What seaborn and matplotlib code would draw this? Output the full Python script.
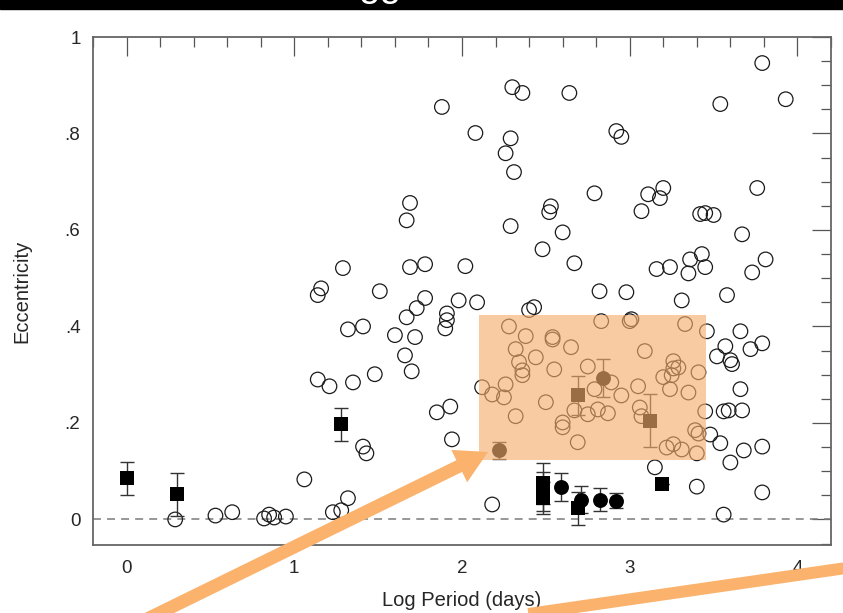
import matplotlib
matplotlib.use("Agg")
import matplotlib.pyplot as plt
import seaborn as sns
import pandas as pd
from matplotlib.patches import Rectangle, FancyArrow
from matplotlib.lines import Line2D
from matplotlib.transforms import IdentityTransform
from matplotlib.ticker import MultipleLocator, FuncFormatter

# Known planets (open circles): log10 period in days, eccentricity
planet_logp = [
    0.29, 0.53, 0.63, 0.82, 0.85, 0.88, 0.95, 1.06, 1.23, 1.28, 1.32, 1.41, 1.43,
    1.85, 1.93, 1.94, 2.18, 1.14, 1.21, 1.35, 1.48, 1.32, 1.41, 1.60, 1.67, 1.73,
    1.72, 1.66, 1.70, 1.91, 1.91, 1.90, 1.88, 2.08, 1.69, 1.67, 1.29, 1.69, 1.78,
    2.02, 1.16, 1.14, 1.51, 1.78, 1.98, 2.30, 2.36, 2.64, 2.29, 2.26, 2.31, 2.92,
    2.95, 2.79, 3.11, 3.20, 3.18, 3.07, 2.53, 2.52, 2.29, 2.60, 2.48, 2.67, 3.16,
    2.82, 2.98, 2.09, 2.40, 2.43, 3.79, 3.93, 3.54, 3.76, 3.42, 3.45, 3.50, 3.67,
    3.36, 3.43, 3.45, 3.35, 3.24, 3.81, 3.73, 3.58, 3.31, 3.46, 3.66, 3.57, 3.52,
    3.60, 3.61, 3.72, 3.79, 3.66, 3.45, 3.56, 3.59, 3.67, 3.48, 3.54, 3.68, 3.79,
    3.60, 3.15, 3.40, 3.79, 3.56, 3.33, 3.09, 3.26, 3.29, 3.26, 3.25, 3.20, 3.41,
    3.24, 3.35, 3.39, 3.41, 3.22, 3.26, 3.31, 3.40, 2.28, 2.38, 2.54, 2.54, 2.83,
    3.00, 3.01, 2.32, 2.44, 2.65, 2.34, 2.36, 2.36, 2.55, 2.75, 2.12, 2.18, 2.26,
    2.25, 2.50, 2.79, 2.89, 2.95, 3.05, 3.06, 2.67, 2.75, 2.81, 2.87, 2.32, 2.60,
    2.60, 3.07, 2.69,
]
planet_ecc = [
    0.000, 0.008, 0.015, 0.002, 0.010, 0.004, 0.006, 0.083, 0.015, 0.019, 0.044, 0.151, 0.137,
    0.222, 0.234, 0.166, 0.031, 0.290, 0.276, 0.284, 0.301, 0.394, 0.400, 0.382, 0.419, 0.438,
    0.378, 0.340, 0.307, 0.427, 0.413, 0.396, 0.855, 0.801, 0.656, 0.620, 0.521, 0.523, 0.529,
    0.525, 0.479, 0.465, 0.473, 0.459, 0.454, 0.896, 0.884, 0.884, 0.790, 0.759, 0.720, 0.805,
    0.793, 0.676, 0.674, 0.687, 0.666, 0.639, 0.649, 0.637, 0.608, 0.595, 0.560, 0.531, 0.519,
    0.473, 0.471, 0.450, 0.434, 0.440, 0.946, 0.871, 0.861, 0.687, 0.633, 0.635, 0.631, 0.591,
    0.539, 0.550, 0.523, 0.510, 0.523, 0.539, 0.512, 0.465, 0.454, 0.390, 0.390, 0.359, 0.338,
    0.330, 0.322, 0.353, 0.365, 0.270, 0.224, 0.224, 0.226, 0.226, 0.176, 0.158, 0.143, 0.151,
    0.118, 0.108, 0.068, 0.056, 0.010, 0.405, 0.349, 0.328, 0.315, 0.313, 0.299, 0.295, 0.305,
    0.270, 0.263, 0.185, 0.178, 0.149, 0.156, 0.145, 0.137, 0.400, 0.380, 0.378, 0.373, 0.411,
    0.411, 0.415, 0.353, 0.336, 0.357, 0.326, 0.309, 0.299, 0.311, 0.317, 0.274, 0.259, 0.280,
    0.253, 0.243, 0.270, 0.284, 0.257, 0.276, 0.232, 0.226, 0.218, 0.228, 0.220, 0.214, 0.201,
    0.191, 0.214, 0.160,
]

# Filled squares with uncertainties
sq_logp = [0.00, 0.30, 1.28, 2.48, 2.48, 2.48, 2.69, 3.19, 2.69, 3.12]
sq_ecc = [0.085, 0.052, 0.197, 0.075, 0.058, 0.044, 0.023, 0.073, 0.257, 0.205]
sq_err = [0.034, 0.044, 0.035, 0.043, 0.040, 0.033, 0.034, 0.000, 0.041, 0.055]

# Filled circles with uncertainties
dot_logp = [2.59, 2.71, 2.82, 2.92, 2.22, 2.84]
dot_ecc = [0.068, 0.041, 0.041, 0.039, 0.143, 0.293]
dot_err = [0.029, 0.028, 0.024, 0.016, 0.017, 0.040]

# Highlighted region (log P range, eccentricity range)
box_logp = [2.10, 3.455]
box_ecc = [0.124, 0.423]

y_ticks = [0.0, 0.2, 0.4, 0.6, 0.8, 1.0]
x_ticks = [0, 1, 2, 3, 4]

sns.set_style("white")
plt.rcParams["font.family"] = ["Liberation Sans", "DejaVu Sans"]

W, H = 843, 613
fig = plt.figure(figsize=(W / 100, H / 100), dpi=100)
ax = fig.add_axes([93 / W, 68 / H, 738 / W, 508 / H])

planets = pd.DataFrame({"logp": planet_logp, "ecc": planet_ecc})
squares = pd.DataFrame({"logp": sq_logp, "ecc": sq_ecc, "err": sq_err})
dots = pd.DataFrame({"logp": dot_logp, "ecc": dot_ecc, "err": dot_err})

ax.axhline(0, color="#7a7a7a", lw=1.1, ls=(0, (5.2, 4.0)), zorder=1)

sns.scatterplot(data=planets, x="logp", y="ecc", ax=ax, marker="o", s=110,
                facecolor="none", edgecolor="#1a1a1a", linewidth=0.9, zorder=3)

ax.errorbar(squares["logp"], squares["ecc"], yerr=squares["err"], fmt="none",
            ecolor="#333333", elinewidth=1.0, capsize=5, capthick=1.0, zorder=4)
ax.errorbar(dots["logp"], dots["ecc"], yerr=dots["err"], fmt="none",
            ecolor="#333333", elinewidth=1.0, capsize=5, capthick=1.0, zorder=4)
sns.scatterplot(data=squares, x="logp", y="ecc", ax=ax, marker="s", s=100,
                color="black", edgecolor="black", linewidth=0, zorder=5)
sns.scatterplot(data=dots, x="logp", y="ecc", ax=ax, marker="o", s=115,
                color="black", edgecolor="black", linewidth=0, zorder=5)

ax.add_patch(Rectangle((box_logp[0], box_ecc[0]), box_logp[1] - box_logp[0],
                       box_ecc[1] - box_ecc[0], facecolor="#F5AE6E",
                       edgecolor="none", alpha=0.63, zorder=6))

ax.set_xlim(-0.2, 4.2)
ax.set_ylim(-0.053, 1.0)
ax.xaxis.set_major_locator(plt.FixedLocator(x_ticks))
ax.xaxis.set_minor_locator(MultipleLocator(0.2))
ax.yaxis.set_major_locator(plt.FixedLocator(y_ticks))
ax.yaxis.set_minor_locator(MultipleLocator(0.05))


def ecc_fmt(v, _):
    if abs(v) < 1e-9:
        return "0"
    if abs(v - 1) < 1e-9:
        return "1"
    return f"{v:.1f}".lstrip("0")


ax.yaxis.set_major_formatter(FuncFormatter(ecc_fmt))
ax.tick_params(which="both", direction="in", top=True, right=True,
               color="#555555", width=0.9, labelsize=13.5)
ax.tick_params(which="major", length=13.5, pad=9)
ax.tick_params(which="minor", length=7)
ax.tick_params(axis="x", which="major", pad=11)
for sp in ax.spines.values():
    sp.set_color("#666666")
    sp.set_linewidth(1.3)

ax.set_xlabel("Log Period (days)", fontsize=14.5, labelpad=10)
ax.set_ylabel("Eccentricity", fontsize=14.5, labelpad=24)

# Presentation overlays: orange pointers and the top banner
px = IdentityTransform()
arrow_col = "#FBB26C"
fig.add_artist(FancyArrow(139, -10, 349, 171, width=13, head_width=36,
                          head_length=32, length_includes_head=True,
                          transform=px, color=arrow_col, lw=0, zorder=10))
fig.add_artist(Line2D([480, 860], [-8, 47], lw=8.6, color=arrow_col,
                      solid_capstyle="butt", transform=px, zorder=10))
fig.add_artist(Rectangle((0, 604), W, 12, transform=px, color="black", zorder=10))
fig.text(380, 617, "gg", transform=px, color="white", fontsize=28,
         ha="center", va="baseline", zorder=11)

fig.savefig("out.png", dpi=100)
